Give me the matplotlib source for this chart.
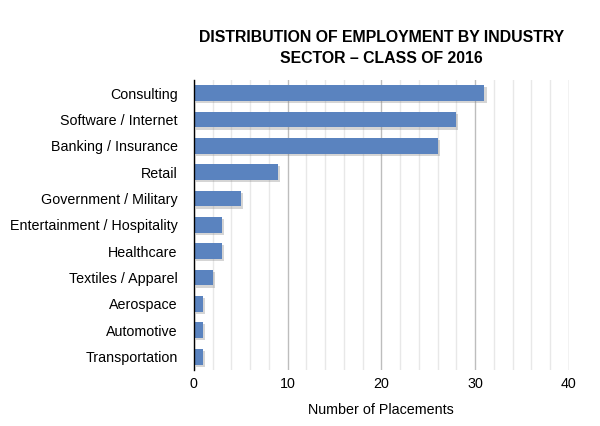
import matplotlib
matplotlib.use('Agg')
import matplotlib.pyplot as plt
import matplotlib.patheffects as pe
from matplotlib.ticker import MultipleLocator

plt.rcParams['font.family'] = ['Liberation Sans', 'DejaVu Sans']

# 数据
industries = ['Consulting', 'Software / Internet', 'Banking / Insurance', 'Retail',
              'Government / Military', 'Entertainment / Hospitality', 'Healthcare',
              'Textiles / Apparel', 'Aerospace', 'Automotive', 'Transportation']
placements = [31, 28, 26, 9, 5, 3, 3, 2, 1, 1, 1]

fig = plt.figure(figsize=(6, 4.26), dpi=100)
ax = fig.add_axes([0.323, 0.132, 0.625, 0.68])

y = list(range(len(industries)))
bars = ax.barh(y, placements, height=0.6, color='#5a83bf', zorder=3)
for b in bars:
    b.set_path_effects([pe.SimplePatchShadow(offset=(1.5, -1.5), shadow_rgbFace='#888888', alpha=0.35),
                        pe.Normal()])

ax.set_ylim(len(industries) - 0.5, -0.5)
ax.set_xlim(0, 40)
ax.set_yticks(y)
ax.set_yticklabels(industries, fontsize=10.3)
ax.xaxis.set_major_locator(MultipleLocator(10))
ax.xaxis.set_minor_locator(MultipleLocator(2))
ax.tick_params(axis='both', length=0, labelsize=10.3)
ax.tick_params(axis='x', which='minor', length=0)
ax.tick_params(axis='x', pad=5)
ax.tick_params(axis='y', pad=11.5)

ax.grid(axis='x', which='major', color='#bdbdbd', linewidth=1, zorder=0)
ax.grid(axis='x', which='minor', color='#e8e8e8', linewidth=1, zorder=0)

for s in ['top', 'right', 'bottom']:
    ax.spines[s].set_visible(False)
ax.spines['left'].set_color('black')
ax.spines['left'].set_linewidth(1)
ax.spines['left'].set_zorder(4)

ax.set_xlabel('Number of Placements', fontsize=10.3, labelpad=8.5)
ax.set_title('DISTRIBUTION OF EMPLOYMENT BY INDUSTRY\nSECTOR \u2013 CLASS OF 2016',
             fontsize=11.4, fontweight='bold', pad=12, linespacing=1.55)

fig.savefig('out.png', dpi=100)
